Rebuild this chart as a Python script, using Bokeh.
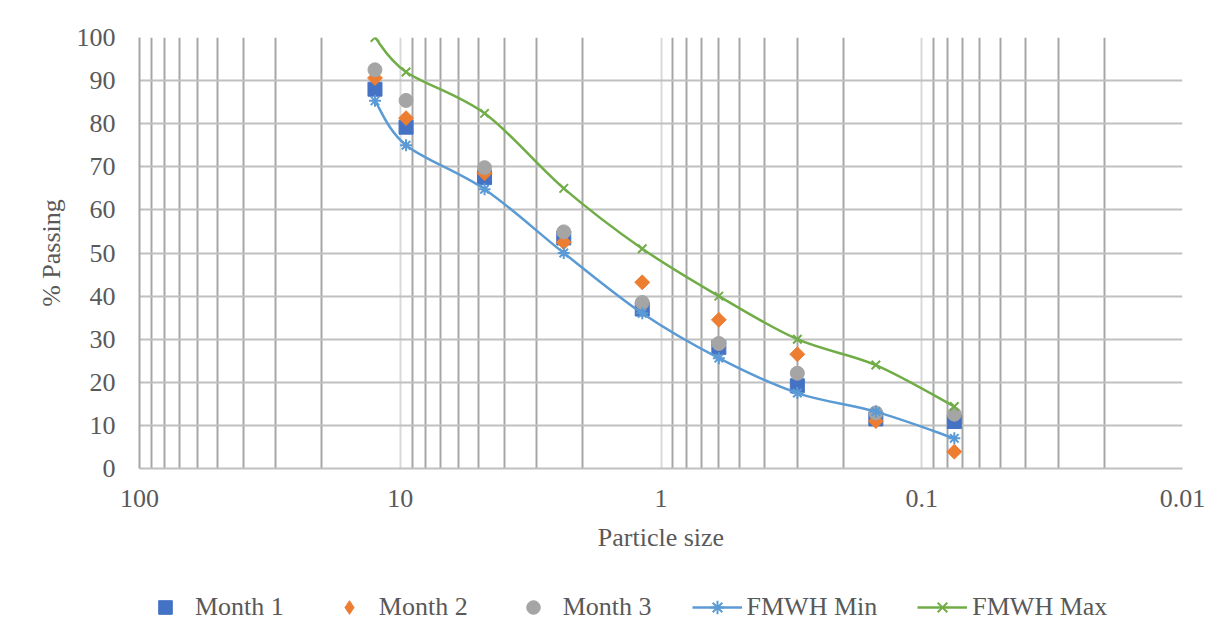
import numpy as np
from bokeh.plotting import figure
from bokeh.layouts import column
from bokeh.models import (Range1d, FixedTicker, CustomJSTickFormatter, Legend,
                          LegendItem, ColumnDataSource)
from bokeh.embed import file_html
from bokeh.resources import INLINE

# ---- data ----
sizes = [12.5, 9.5, 4.75, 2.36, 1.18, 0.6, 0.3, 0.15, 0.075]
month1 = [88, 79.2, 67.5, 53.5, 37, 28.1, 19.2, 11.5, 10.9]
month2 = [90.6, 81.3, 68.5, 52.5, 43.2, 34.5, 26.5, 11, 3.9]
month3 = [92.5, 85.4, 69.8, 54.9, 38.5, 29, 22.1, 12.9, 12.6]
fmwh_min = [85.3, 75, 64.8, 50, 36, 25.6, 17.5, 13.2, 7]
fmwh_max = [100, 92, 82.4, 65, 51, 40, 30, 24, 14.4]

x_ticks = [100, 10, 1, 0.1, 0.01]
x_tick_labels = ["100", "10", "1", "0.1", "0.01"]
x_minor = [m * d for d in [10, 1, 0.1, 0.01] for m in range(2, 10)]
y_ticks = list(range(0, 101, 10))

FONT = "Liberation Serif"
TXT = "#595959"
FS = "26px"
C1, C2, C3, CMIN, CMAX = "#4472C4", "#ED7D31", "#A5A5A5", "#5B9BD5", "#70AD47"

p = figure(width=1232, height=564, x_axis_type="log",
           x_range=Range1d(100, 0.01), y_range=Range1d(0, 100),
           output_backend="svg", toolbar_location=None,
           min_border_left=139, min_border_right=50,
           min_border_top=37, min_border_bottom=96)
p.outline_line_color = None
p.background_fill_color = "white"

# grids
p.xaxis.ticker = FixedTicker(ticks=x_ticks, minor_ticks=x_minor)
p.yaxis.ticker = FixedTicker(ticks=y_ticks)
p.xgrid.grid_line_color = "#d9d9d9"
p.xgrid.grid_line_width = 2
p.xgrid.minor_grid_line_color = "#a6a6a6"
p.xgrid.minor_grid_line_width = 2
p.ygrid.grid_line_color = "#c0c0c0"
p.ygrid.grid_line_width = 2

p.xaxis.formatter = CustomJSTickFormatter(
    args=dict(tv=x_ticks, tl=x_tick_labels),
    code="for (let i = 0; i < tv.length; i++) { if (Math.abs(tv[i] - tick) < 1e-9 * tv[i]) return tl[i]; } return tick.toString();")

for ax in (p.xaxis, p.yaxis):
    ax.major_tick_line_color = None
    ax.minor_tick_line_color = None
    ax.major_tick_out = 0
    ax.major_tick_in = 0
    ax.minor_tick_out = 0
    ax.major_label_text_font = FONT
    ax.major_label_text_font_size = FS
    ax.major_label_text_color = TXT
    ax.axis_label_text_font = FONT
    ax.axis_label_text_font_size = FS
    ax.axis_label_text_font_style = "normal"
    ax.axis_label_text_color = TXT

p.xaxis.axis_line_color = "#c0c0c0"
p.xaxis.axis_line_width = 2
p.yaxis.axis_line_color = "#a6a6a6"
p.yaxis.axis_line_width = 2
p.xaxis.axis_label = "Particle size"
p.yaxis.axis_label = "% Passing"
p.xaxis.major_label_standoff = 21
p.xaxis.axis_label_standoff = 13
p.yaxis.major_label_standoff = 24
p.yaxis.axis_label_standoff = 8


def draw(fig, visible=True):
    src = ColumnDataSource(dict(x=sizes, m1=month1, m2=month2, m3=month3,
                                mn=fmwh_min, mx=fmwh_max))
    r1 = fig.scatter("x", "m1", source=src, marker="square", size=14,
                     fill_color=C1, line_color=C1, visible=visible)
    if visible:
        r2 = fig.scatter("x", "m2", source=src, marker="square", angle=np.pi / 4,
                         size=10.5, fill_color=C2, line_color=C2)
    else:
        r2 = fig.scatter("x", "m2", source=src, marker="diamond", size=14,
                         fill_color=C2, line_color=C2, visible=False)
    r3 = fig.scatter("x", "m3", source=src, marker="circle", size=14,
                     fill_color=C3, line_color=C3, visible=visible)

    def smooth(ys, color):
        u = np.log10(np.asarray(sizes, dtype=float))
        y = np.asarray(ys, dtype=float)
        n = len(u)
        up = np.concatenate([[u[0]], u, [u[-1]]])
        yp = np.concatenate([[y[0]], y, [y[-1]]])
        cu0 = u[:-1] + (up[2:n + 1] - up[0:n - 1]) / 6
        cy0 = y[:-1] + (yp[2:n + 1] - yp[0:n - 1]) / 6
        cu1 = u[1:] - (up[3:n + 2] - up[1:n]) / 6
        cy1 = y[1:] - (yp[3:n + 2] - yp[1:n]) / 6
        s = ColumnDataSource(dict(x0=10 ** u[:-1], y0=y[:-1], x1=10 ** u[1:], y1=y[1:],
                                  cx0=10 ** cu0, cy0=cy0, cx1=10 ** cu1, cy1=cy1))
        return fig.bezier(x0="x0", y0="y0", x1="x1", y1="y1", cx0="cx0", cy0="cy0",
                          cx1="cx1", cy1="cy1", source=s, line_color=color,
                          line_width=2.5, visible=visible)

    b_min = smooth(fmwh_min, CMIN)
    s_min = fig.scatter("x", "mn", source=src, marker="asterisk", size=12,
                        line_color=CMIN, line_width=2, visible=visible)
    b_max = smooth(fmwh_max, CMAX)
    s_max = fig.scatter("x", "mx", source=src, marker="x", size=12,
                        line_color=CMAX, line_width=2, visible=visible)
    return r1, r2, r3, (b_min, s_min), (b_max, s_max)


draw(p, True)

# legend strip below the chart (its own canvas, so the legend is not clipped)
leg = figure(width=1232, height=80, x_axis_type="log",
             x_range=Range1d(100, 0.01), y_range=Range1d(0, 100),
             x_axis_location=None, y_axis_location=None, min_border=0,
             output_backend="svg", toolbar_location=None)
leg.outline_line_color = None
leg.grid.visible = False
l1, l2, l3, lmin, lmax = draw(leg, False)

legend = Legend(items=[
    LegendItem(label="Month 1", renderers=[l1]),
    LegendItem(label="Month 2", renderers=[l2]),
    LegendItem(label="Month 3", renderers=[l3]),
    LegendItem(label="FMWH Min", renderers=list(lmin)),
    LegendItem(label="FMWH Max", renderers=list(lmax)),
], orientation="horizontal", location=(1, 20), glyph_width=50, glyph_height=34,
    label_standoff=5, spacing=40, padding=0, margin=0,
    border_line_color=None, background_fill_alpha=0,
    label_text_font=FONT, label_text_font_size=FS, label_text_color=TXT)
leg.add_layout(legend)

open("out.html", "w").write(file_html(column(p, leg, spacing=0), INLINE))
